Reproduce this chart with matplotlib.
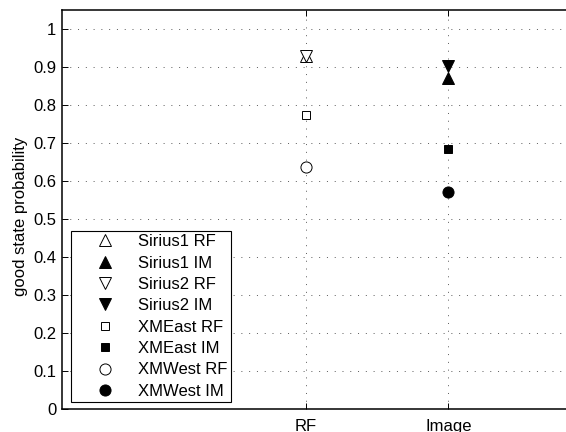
import matplotlib
matplotlib.use("Agg")
import matplotlib.pyplot as plt

plt.rcParams['font.family'] = ['Liberation Sans', 'DejaVu Sans']

categories = ["RF", "Image"]
cat_pos = [1, 2]
series_labels = ["Sirius1 RF", "Sirius1 IM", "Sirius2 RF", "Sirius2 IM",
                 "XMEast RF", "XMEast IM", "XMWest RF", "XMWest IM"]
series_x = [1, 2, 1, 2, 1, 2, 1, 2]
series_y = [0.930, 0.872, 0.930, 0.903, 0.774, 0.685, 0.638, 0.570]
series_marker = ["^", "^", "v", "v", "s", "s", "o", "o"]
series_filled = [False, True, False, True, False, True, False, True]
series_ms = [8.5, 8.5, 8.5, 8.5, 6, 6, 8, 8]
yticks = [0, 0.1, 0.2, 0.3, 0.4, 0.5, 0.6, 0.7, 0.8, 0.9, 1]
ytick_labels = ["0", "0.1", "0.2", "0.3", "0.4", "0.5", "0.6", "0.7", "0.8", "0.9", "1"]

W, H = 566, 432
fig = plt.figure(figsize=(W / 100, H / 100), dpi=100)
left_px, right_px, top_px, bottom_px = 62, 800, 10, 23
ax = fig.add_axes([left_px / W, bottom_px / H, (right_px - left_px) / W,
                   (H - top_px - bottom_px) / H])

for x, y, m, f, ms, lab in zip(series_x, series_y, series_marker, series_filled,
                               series_ms, series_labels):
    ax.plot([x], [y], linestyle='none', marker=m, markersize=ms,
            markerfacecolor='black' if f else 'white',
            markeredgecolor='black', markeredgewidth=0.7, label=lab)

px_per_unit = 142.3
ax.set_xlim(1 - (306 - left_px) / px_per_unit, 1 + (right_px - 306) / px_per_unit)
ax.set_ylim(0, 1.05)
ax.set_xticks(cat_pos)
ax.set_xticklabels(categories, fontsize=12)
ax.set_yticks(yticks)
ax.set_yticklabels(ytick_labels, fontsize=12)
ax.set_ylabel("good state probability", fontsize=12)
ax.yaxis.set_label_coords(28 / W, 0.5, transform=fig.transFigure)

ax.spines['right'].set_visible(False)
ax.tick_params(direction='in', top=True, right=False, length=4, width=0.7)
ax.tick_params(axis='y', pad=4)
ax.tick_params(axis='x', pad=7)
for s in ax.spines.values():
    s.set_linewidth(1.1)
ax.grid(True, color='0.35', linestyle=(0, (1, 7)), linewidth=0.7)
ax.set_axisbelow(True)

leg = ax.legend(loc='lower left', bbox_to_anchor=(71 / W, 30 / H),
                bbox_transform=fig.transFigure, fontsize=12, frameon=True,
                fancybox=False, edgecolor='black', framealpha=1,
                labelspacing=0.38, handletextpad=0.14, borderpad=0.2,
                handlelength=3.67, borderaxespad=0)
leg.get_frame().set_linewidth(0.8)

fig.savefig("out.png", dpi=100)
